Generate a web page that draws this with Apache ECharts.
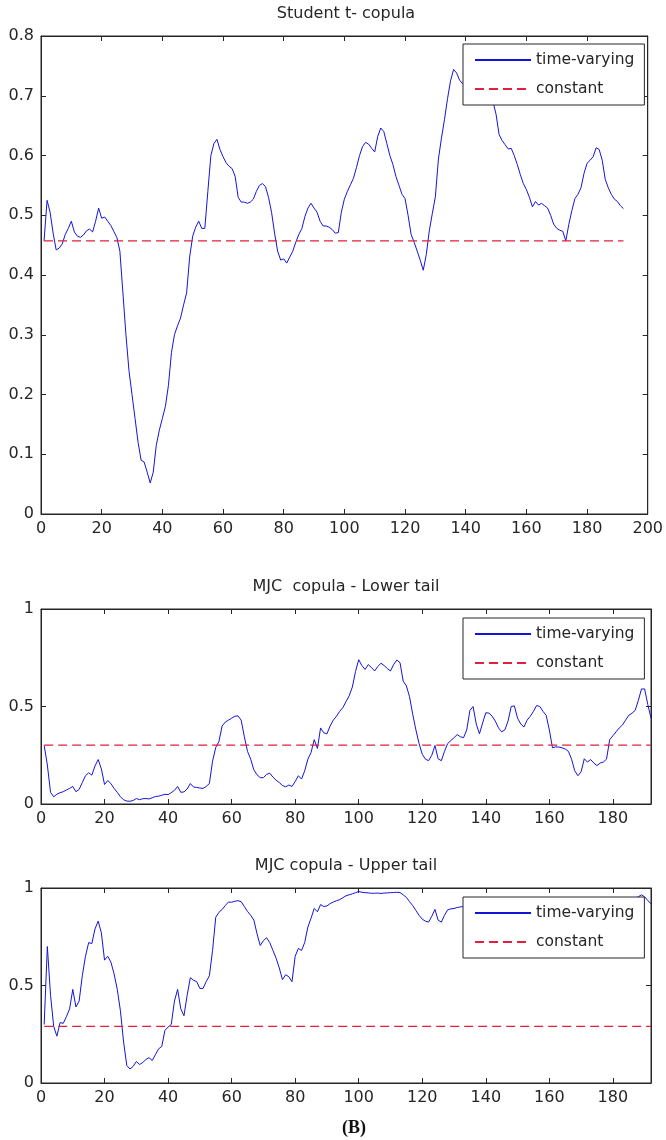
<!DOCTYPE html>
<html>
<head>
<meta charset="utf-8">
<title>Copula dependence</title>
<script src="https://cdn.jsdelivr.net/npm/echarts@6/dist/echarts.min.js"></script>
<style>
  html, body { margin: 0; padding: 0; background: #fff; }
  #main { width: 666px; height: 1140px; }
</style>
</head>
<body>
<div id="main"></div>
<script>
// time-varying dependence, t = 1..192
const studentT = [
  0.457, 0.525, 0.505, 0.470, 0.442, 0.445, 0.452, 0.468, 0.478, 0.490,
  0.472, 0.465, 0.463, 0.467, 0.474, 0.477, 0.472, 0.490, 0.512, 0.495,
  0.497, 0.490, 0.483, 0.473, 0.463, 0.440, 0.370, 0.300, 0.240, 0.200,
  0.160, 0.120, 0.090, 0.087, 0.070, 0.052, 0.070, 0.115, 0.140, 0.160,
  0.180, 0.215, 0.270, 0.300, 0.315, 0.328, 0.350, 0.370, 0.430, 0.465,
  0.480, 0.490, 0.478, 0.478, 0.540, 0.600, 0.620, 0.627, 0.610, 0.598,
  0.588, 0.582, 0.578, 0.565, 0.530, 0.522, 0.522, 0.520, 0.522, 0.527,
  0.540, 0.550, 0.553, 0.548, 0.530, 0.505, 0.470, 0.440, 0.425, 0.427,
  0.420, 0.430, 0.440, 0.455, 0.468, 0.478, 0.498, 0.512, 0.520, 0.512,
  0.505, 0.490, 0.482, 0.482, 0.480, 0.476, 0.470, 0.471, 0.505, 0.527,
  0.540, 0.551, 0.562, 0.580, 0.600, 0.615, 0.622, 0.619, 0.612, 0.606,
  0.632, 0.646, 0.640, 0.620, 0.600, 0.585, 0.565, 0.550, 0.535, 0.528,
  0.500, 0.468, 0.455, 0.440, 0.425, 0.408, 0.434, 0.474, 0.503, 0.531,
  0.594, 0.629, 0.660, 0.695, 0.725, 0.744, 0.738, 0.726, 0.720, 0.715,
  0.720, 0.730, 0.735, 0.730, 0.720, 0.715, 0.710, 0.700, 0.690, 0.669,
  0.635, 0.625, 0.618, 0.611, 0.612, 0.600, 0.585, 0.568, 0.553, 0.543,
  0.530, 0.514, 0.523, 0.517, 0.520, 0.516, 0.512, 0.500, 0.485, 0.478,
  0.475, 0.473, 0.457, 0.485, 0.508, 0.528, 0.535, 0.546, 0.570, 0.587,
  0.592, 0.598, 0.613, 0.610, 0.592, 0.560, 0.546, 0.535, 0.527, 0.523,
  0.516, 0.511
]
const mjcLower = [
  0.300, 0.200, 0.060, 0.037, 0.050, 0.058, 0.063, 0.072, 0.080, 0.090,
  0.063, 0.075, 0.110, 0.145, 0.160, 0.148, 0.195, 0.228, 0.180, 0.100,
  0.120, 0.105, 0.080, 0.060, 0.037, 0.022, 0.015, 0.014, 0.018, 0.028,
  0.022, 0.027, 0.028, 0.026, 0.032, 0.038, 0.040, 0.045, 0.050, 0.048,
  0.058, 0.070, 0.090, 0.060, 0.062, 0.077, 0.105, 0.087, 0.085, 0.082,
  0.080, 0.090, 0.105, 0.220, 0.290, 0.320, 0.400, 0.420, 0.430, 0.440,
  0.450, 0.452, 0.430, 0.345, 0.270, 0.230, 0.175, 0.150, 0.135, 0.135,
  0.152, 0.158, 0.138, 0.122, 0.110, 0.095, 0.088, 0.097, 0.090, 0.115,
  0.145, 0.128, 0.170, 0.230, 0.264, 0.330, 0.285, 0.390, 0.365, 0.360,
  0.400, 0.430, 0.450, 0.475, 0.494, 0.525, 0.555, 0.600, 0.680, 0.740,
  0.710, 0.690, 0.715, 0.700, 0.682, 0.705, 0.722, 0.710, 0.695, 0.682,
  0.715, 0.738, 0.725, 0.630, 0.606, 0.550, 0.460, 0.380, 0.310, 0.255,
  0.230, 0.222, 0.250, 0.300, 0.232, 0.222, 0.270, 0.310, 0.325, 0.340,
  0.356, 0.345, 0.340, 0.380, 0.480, 0.500, 0.410, 0.360, 0.415, 0.468,
  0.466, 0.450, 0.425, 0.390, 0.370, 0.380, 0.425, 0.500, 0.503, 0.440,
  0.410, 0.395, 0.430, 0.450, 0.475, 0.505, 0.500, 0.475, 0.455, 0.380,
  0.288, 0.293, 0.292, 0.288, 0.282, 0.270, 0.230, 0.170, 0.145, 0.165,
  0.232, 0.215, 0.228, 0.210, 0.197, 0.210, 0.215, 0.230, 0.330, 0.350,
  0.370, 0.390, 0.405, 0.430, 0.455, 0.465, 0.480, 0.530, 0.590, 0.590,
  0.510, 0.440
]
const mjcUpper = [
  0.300, 0.700, 0.450, 0.290, 0.240, 0.310, 0.306, 0.340, 0.380, 0.480,
  0.390, 0.420, 0.550, 0.650, 0.720, 0.715, 0.790, 0.830, 0.770, 0.630,
  0.650, 0.620, 0.560, 0.480, 0.370, 0.210, 0.090, 0.072, 0.085, 0.110,
  0.095, 0.105, 0.120, 0.130, 0.115, 0.145, 0.175, 0.187, 0.270, 0.287,
  0.300, 0.420, 0.480, 0.380, 0.345, 0.450, 0.540, 0.527, 0.520, 0.485,
  0.485, 0.520, 0.550, 0.680, 0.850, 0.875, 0.890, 0.910, 0.928, 0.927,
  0.932, 0.935, 0.930, 0.905, 0.880, 0.860, 0.835, 0.765, 0.705, 0.730,
  0.745, 0.720, 0.680, 0.640, 0.590, 0.530, 0.555, 0.545, 0.520, 0.650,
  0.690, 0.680, 0.720, 0.800, 0.845, 0.895, 0.878, 0.915, 0.905, 0.908,
  0.920, 0.928, 0.935, 0.940, 0.950, 0.960, 0.965, 0.970, 0.976, 0.982,
  0.978, 0.976, 0.975, 0.973, 0.973, 0.974, 0.972, 0.974, 0.975, 0.976,
  0.977, 0.978, 0.977, 0.965, 0.952, 0.930, 0.910, 0.885, 0.860, 0.840,
  0.830, 0.825, 0.855, 0.890, 0.835, 0.825, 0.860, 0.888, 0.893, 0.895,
  0.900, 0.903, 0.905, 0.908, 0.912, 0.910, 0.906, 0.901, 0.897, 0.893,
  0.890, 0.886, 0.881, 0.878, 0.882, 0.887, 0.891, 0.896, 0.902, 0.907,
  0.912, 0.916, 0.921, 0.918, 0.914, 0.909, 0.904, 0.899, 0.894, 0.890,
  0.884, 0.880, 0.877, 0.874, 0.871, 0.869, 0.864, 0.860, 0.858, 0.861,
  0.866, 0.871, 0.876, 0.880, 0.886, 0.891, 0.895, 0.901, 0.906, 0.910,
  0.916, 0.920, 0.925, 0.931, 0.936, 0.941, 0.946, 0.955, 0.965, 0.955,
  0.935, 0.920
]
// constant-parameter estimates, one per panel
const constantLevels = [0.457, 0.302, 0.29]
const panelTitles = ['Student t- copula', 'MJC  copula - Lower tail', 'MJC copula - Upper tail']
const xMax = [200, 192, 192]
const yMax = [0.8, 1, 1]
const yStep = [0.1, 0.5, 0.5]

const FONT = 'DejaVu Sans'
const INK = '#262626'
const BLUE = '#1414d8'
const RED = '#e0203c'
const grids = [
  { left: 41, width: 610, top: 36, height: 478 },
  { left: 41, width: 610, top: 609, height: 195 },
  { left: 41, width: 610, top: 888, height: 195 }
]
const titleTops = [6, 579, 858]
const legendTops = [44, 618, 897]
const seriesValues = [studentT, mjcLower, mjcUpper]

const xAxis = []
const yAxis = []
const series = []
grids.forEach((g, i) => {
  const tick = { show: true, inside: true, length: 5, lineStyle: { color: INK } }
  const line = { show: true, onZero: false, lineStyle: { color: INK, width: 1 } }
  xAxis.push({
    type: 'value', gridIndex: i, min: 0, max: xMax[i], interval: 20,
    axisLine: line, axisTick: tick, splitLine: { show: false },
    axisLabel: { margin: 7, color: INK, fontFamily: FONT, fontSize: 16, showMaxLabel: xMax[i] === 200 }
  })
  xAxis.push({
    type: 'value', gridIndex: i, position: 'top', min: 0, max: xMax[i], interval: 20,
    axisLine: line, axisTick: tick, splitLine: { show: false }, axisLabel: { show: false }
  })
  yAxis.push({
    type: 'value', gridIndex: i, min: 0, max: yMax[i], interval: yStep[i],
    axisLine: line, axisTick: tick, splitLine: { show: false },
    axisLabel: { margin: 7, color: INK, fontFamily: FONT, fontSize: 16 }
  })
  yAxis.push({
    type: 'value', gridIndex: i, position: 'right', min: 0, max: yMax[i], interval: yStep[i],
    axisLine: line, axisTick: tick, splitLine: { show: false }, axisLabel: { show: false }
  })
  series.push({
    name: 'time-varying', type: 'line', xAxisIndex: 2 * i, yAxisIndex: 2 * i,
    symbol: 'none', silent: true,
    data: seriesValues[i].map((v, k) => [k + 1, v]),
    lineStyle: { color: BLUE, width: 1 },
    itemStyle: { color: BLUE }
  })
  series.push({
    name: 'constant', type: 'line', xAxisIndex: 2 * i, yAxisIndex: 2 * i,
    symbol: 'none', silent: true,
    data: [[1, constantLevels[i]], [seriesValues[i].length, constantLevels[i]]],
    lineStyle: { color: RED, width: 1.3, type: [9, 5] },
    itemStyle: { color: RED }
  })
})

const title = panelTitles.map((t, i) => ({
  text: t, left: 346, top: titleTops[i], textAlign: 'center', padding: 0,
  textStyle: { fontFamily: FONT, fontSize: 16, fontWeight: 'normal', color: INK }
}))
title.push({
  text: '(B)', left: 354, top: 1119, textAlign: 'center', padding: 0,
  textStyle: { fontFamily: 'Liberation Serif', fontSize: 18, fontWeight: 'bold', color: '#111' }
})

const legend = legendTops.map(top => ({
  data: ['time-varying', 'constant'],
  orient: 'vertical', left: 463, top: top,
  itemWidth: 56, itemHeight: 14, itemGap: 13,
  padding: [8, 10, 8, 11],
  borderColor: INK, borderWidth: 1, borderRadius: 0, backgroundColor: '#fff',
  selectedMode: false,
  itemStyle: { opacity: 0 },
  textStyle: { fontFamily: FONT, fontSize: 15.5, color: INK }
}))

const chart = echarts.init(document.getElementById('main'))
chart.setOption({
  animation: false,
  backgroundColor: '#fff',
  title: title,
  legend: legend,
  grid: grids.map(g => Object.assign({ show: true, borderColor: INK, borderWidth: 1, backgroundColor: 'transparent' }, g)),
  xAxis: xAxis,
  yAxis: yAxis,
  series: series
})
</script>
</body>
</html>
